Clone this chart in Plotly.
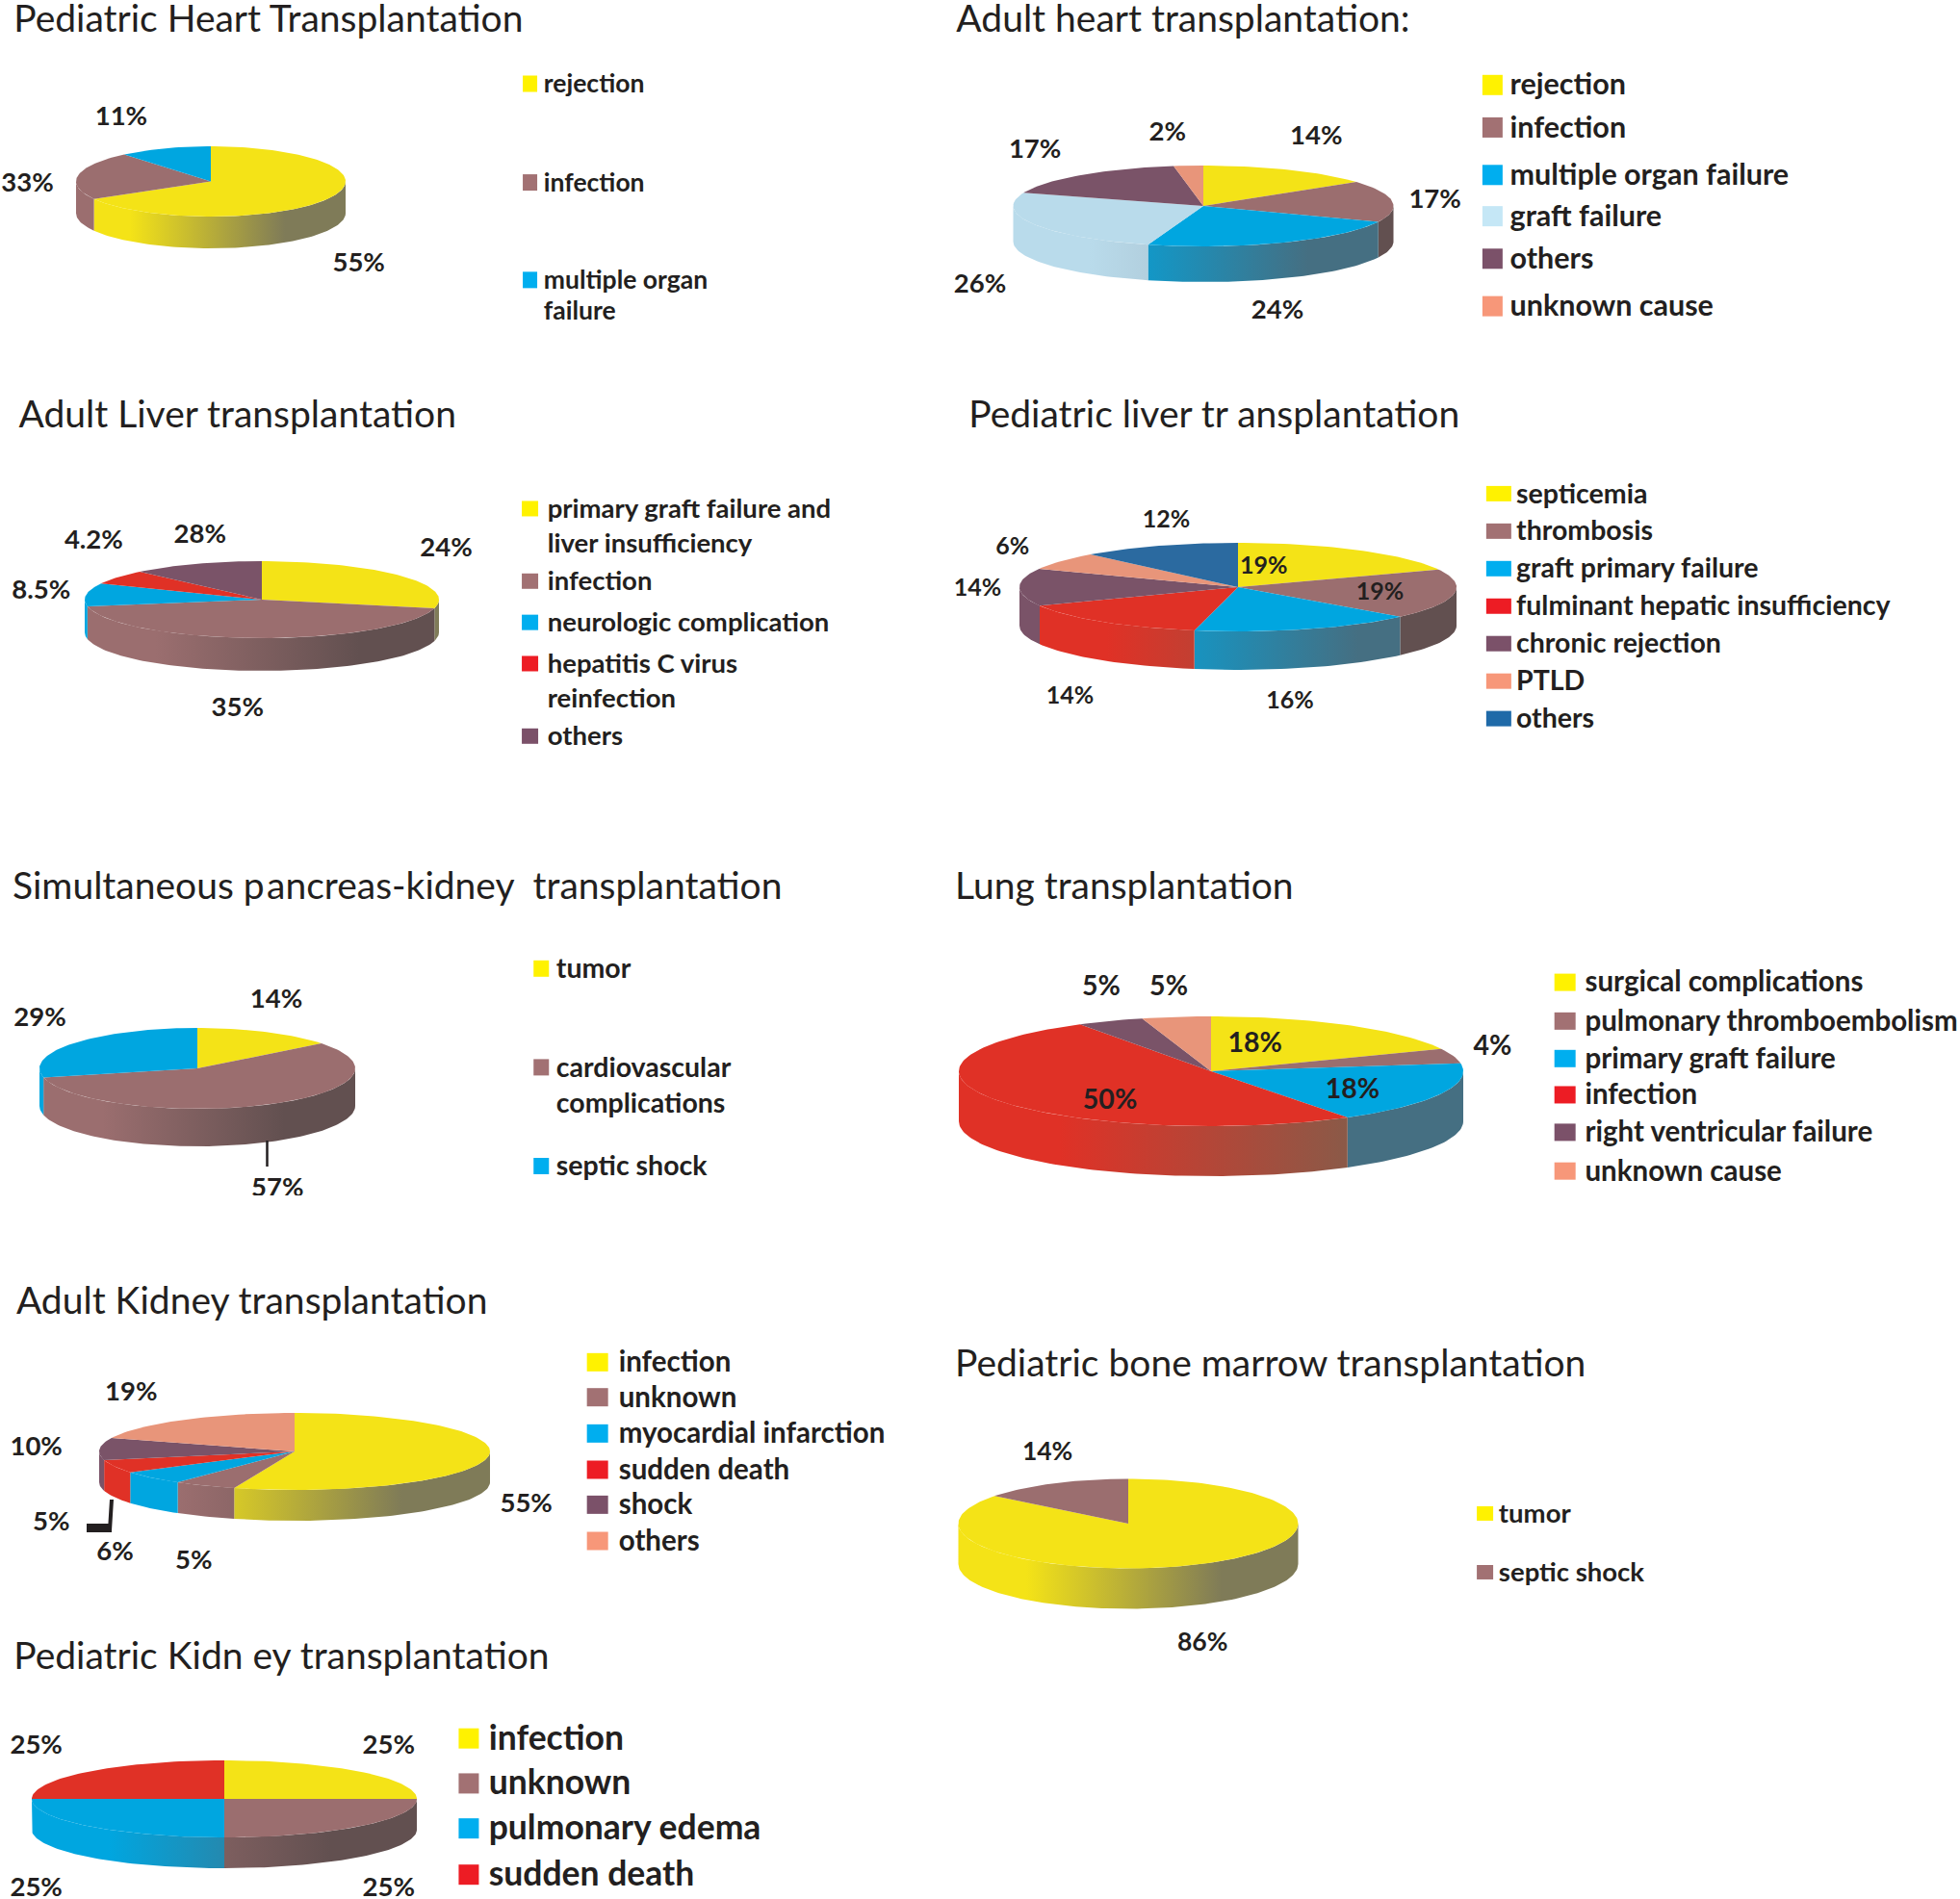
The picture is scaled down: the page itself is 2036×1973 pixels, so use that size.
import math
import plotly.graph_objects as go

W, H = 2036, 1973
K = W / 1568  # text anchors below are noted on a 1568-wide grid
TEXT_DY = 2.5  # px: box centre to glyph centre
TITLE_DY = 3.5

# ---- data ---------------------------------------------------------------
ped_heart_title = "Pediatric Heart Transplantation"
ped_heart_cats = ["rejection", "infection", "multiple organ\nfailure"]
ped_heart_vals = [66.7, 22.2, 11.1]
ped_heart_lbls = ["55%", "33%", "11%"]

adult_heart_title = "Adult heart transplantation:"
adult_heart_cats = ["rejection", "infection", "multiple organ failure", "graft failure", "others", "unknown cause"]
adult_heart_vals = [14.9, 16.5, 23.3, 25.6, 17.2, 2.5]
adult_heart_lbls = ["14%", "17%", "24%", "26%", "17%", "2%"]

adult_liver_title = "Adult Liver transplantation"
adult_liver_cats = ["primary graft failure and\nliver insufficiency", "infection", "neurologic complication",
                    "hepatitis C virus\nreinfection", "others"]
adult_liver_vals = [28.6, 43.6, 9.7, 6.0, 12.1]
adult_liver_lbls = ["24%", "35%", "8.5%", "4.2%", "28%"]

ped_liver_title = "Pediatric liver tr ansplantation"
ped_liver_cats = ["septicemia", "thrombosis", "graft primary failure", "fulminant hepatic insufficiency",
                  "chronic rejection", "PTLD", "others"]
ped_liver_vals = [18.5, 18.2, 16.5, 14.9, 13.7, 6.4, 11.8]
ped_liver_lbls = ["19%", "19%", "16%", "14%", "14%", "6%", "12%"]

spk_title = "Simultaneous p\u200aancreas-kidney \u00a0transplantation"
spk_cats = ["tumor", "cardiovascular\ncomplications", "septic shock"]
spk_vals = [14.4, 57, 28.6]
spk_lbls = ["14%", "57%", "29%"]

lung_title = "Lung transplantation"
lung_cats = ["surgical complications", "pulmonary thromboembolism", "primary graft failure", "infection",
             "right ventricular failure", "unknown cause"]
lung_vals = [18.3, 4.4, 18.2, 50.4, 4.3, 4.4]
lung_lbls = ["18%", "4%", "18%", "50%", "5%", "5%"]

adult_kidney_title = "Adult Kidney transplantation"
adult_kidney_cats = ["infection", "unknown", "myocardial infarction", "sudden death", "shock", "others"]
adult_kidney_vals = [55, 5.2, 5.7, 5.5, 9.3, 19.3]
adult_kidney_lbls = ["55%", "5%", "6%", "5%", "10%", "19%"]

ped_kidney_title = "Pediatric Kidn ey transplantation"
ped_kidney_cats = ["infection", "unknown", "pulmonary edema", "sudden death"]
ped_kidney_vals = [25, 25, 25, 25]
ped_kidney_lbls = ["25%", "25%", "25%", "25%"]

ped_bm_title = "Pediatric bone marrow transplantation"
ped_bm_cats = ["tumor", "septic shock"]
ped_bm_vals = [85.6, 14.4]
ped_bm_lbls = ["86%", "14%"]

# ---- styles: (top colour, side end colour, legend colour) ----------------
Y = ("#f4e317", "#7f7b58", "#fff200")
B = ("#9b6e6f", "#625050", "#a27173")
C = ("#00a6e0", "#456f82", "#00aeef")
L = ("#b9dbeb", "#9fb0bc", "#c5e7f6")
V = ("#7a5368", "#5f4a58", "#7b5169")
P = ("#e8957a", "#a88070", "#f79779")
R = ("#e03126", "#8a5a48", "#ed1c24")
D = ("#2b6aa0", "#3a5a78", "#1f6aa8")

TITLE_SIZE = 39

PIES = [
    dict(title=ped_heart_title, cats=ped_heart_cats, vals=ped_heart_vals, lbls=ped_heart_lbls,
         colors=[Y, B, C], geom=(219, 188.5, 140, 36.5, 33), title_xy=(11, 15.5),
         lbl_xy=[(287, 210), (22, 146), (97, 93)], lbl_size=27.5,
         sw_x=424, sw=(15, 17), txt_x=435, leg_y=[67, 146, 224], line_gap=25, leg_size=26.5),
    dict(title=adult_heart_title, cats=adult_heart_cats, vals=adult_heart_vals, lbls=adult_heart_lbls,
         colors=[Y, B, C, L, V, P], geom=(1250, 214, 197.5, 42, 37), title_xy=(765, 15.5),
         lbl_xy=[(1053, 108), (1148, 159), (1022, 248), (784, 227), (828, 119), (934, 105)], lbl_size=27.5,
         sw_x=1194, sw=(21, 21), txt_x=1208, leg_y=[68, 102, 140, 173, 207, 245], line_gap=0, leg_size=30.5),
    dict(title=adult_liver_title, cats=adult_liver_cats, vals=adult_liver_vals, lbls=adult_liver_lbls,
         colors=[Y, B, C, R, V], geom=(272, 623, 184, 40, 34), title_xy=(15, 332),
         lbl_xy=[(357, 438), (190, 566), (33, 472), (75, 432), (160, 427)], lbl_size=27.5,
         sw_x=424, sw=(17, 16), txt_x=438, leg_y=[407, 465, 498, 531, 589], line_gap=28, leg_size=27.5),
    dict(title=ped_liver_title, cats=ped_liver_cats, vals=ped_liver_vals, lbls=ped_liver_lbls,
         colors=[Y, B, C, R, V, P, D], geom=(1286, 610, 227, 46, 40), title_xy=(775, 332),
         lbl_xy=[(1011, 452), (1104, 473), (1032, 560), (856, 556), (782, 470), (810, 437), (933, 415)], lbl_size=25,
         sw_x=1199, sw=(26, 16), txt_x=1213, leg_y=[395, 425, 455, 485, 515, 545, 575], line_gap=0, leg_size=28.5),
    dict(title=spk_title, cats=spk_cats, vals=spk_vals, lbls=spk_lbls,
         colors=[Y, B, C], geom=(205, 1110, 164, 42, 39), title_xy=(10, 709),
         lbl_xy=[(221, 799), (222, 950), (32, 814)], lbl_size=27.5,
         sw_x=433, sw=(16, 17), txt_x=445, leg_y=[775, 854, 933], line_gap=29, leg_size=28.5),
    dict(title=lung_title, cats=lung_cats, vals=lung_vals, lbls=lung_lbls,
         colors=[Y, B, C, R, V, P], geom=(1258, 1113, 262, 57, 52), title_xy=(764, 709),
         lbl_xy=[(1004, 834), (1194, 837), (1082, 871), (888, 880), (881, 789), (935, 789)], lbl_size=28.5,
         sw_x=1252, sw=(22, 18), txt_x=1268, leg_y=[786, 817, 847, 876, 906, 937], line_gap=0, leg_size=29.5),
    dict(title=adult_kidney_title, cats=adult_kidney_cats, vals=adult_kidney_vals, lbls=adult_kidney_lbls,
         colors=[Y, B, C, R, V, P], geom=(306, 1508, 203, 40, 32), title_xy=(13, 1041),
         lbl_xy=[(421, 1203), (155, 1248), (92, 1241), (41, 1217), (29, 1157), (105, 1113)], lbl_size=27.5,
         sw_x=478, sw=(22, 19), txt_x=495, leg_y=[1090, 1118, 1147, 1176, 1204, 1233], line_gap=0, leg_size=29.5),
    dict(title=ped_kidney_title, cats=ped_kidney_cats, vals=ped_kidney_vals, lbls=ped_kidney_lbls,
         colors=[Y, B, C, R], geom=(233, 1869, 200, 40, 32), title_xy=(11, 1325),
         lbl_xy=[(311, 1396), (311, 1510), (29, 1510), (29, 1396)], lbl_size=27.5,
         sw_x=375, sw=(21, 21), txt_x=391, leg_y=[1391, 1427, 1463, 1500], line_gap=0, leg_size=35.5),
    dict(title=ped_bm_title, cats=ped_bm_cats, vals=ped_bm_vals, lbls=ped_bm_lbls,
         colors=[Y, B], geom=(1172, 1583, 176.5, 46.5, 42), title_xy=(764, 1091),
         lbl_xy=[(962, 1314), (838, 1161)], lbl_size=26.5,
         sw_x=1188, sw=(17, 15), txt_x=1199, leg_y=[1211, 1258], line_gap=0, leg_size=27.5),
]

INK = "#231f20"
fig = go.Figure()
shapes = []


def arc(cx, cy, rx, ry, a, b, dy=0):
    n = max(2, int(abs(b - a) / 1.5) + 1)
    ts = [math.radians(a + (b - a) * i / (n - 1)) for i in range(n)]
    return [cx + rx * math.sin(t) for t in ts], [cy + dy - ry * math.cos(t) for t in ts]


def poly(xs, ys, **kw):
    fig.add_trace(go.Scatter(x=xs, y=ys, mode="lines", fill="toself", line=dict(width=0),
                             hoverinfo="skip", showlegend=False, **kw))


def text(xs, ys, strs, size, weight=700, pos="middle center"):
    fig.add_trace(go.Scatter(x=xs, y=ys, text=strs, mode="text", textposition=pos, hoverinfo="skip",
                             showlegend=False, cliponaxis=False,
                             textfont=dict(family="Lato", size=size, color=INK, weight=weight)))


for p in PIES:
    cx, cy, rx, ry, depth = p["geom"]
    total = sum(p["vals"])
    angle = 0.0
    spans = []
    for v in p["vals"]:
        spans.append((angle, angle + 360.0 * v / total))
        angle = spans[-1][1]
    # sides: the front half of the drum
    for (a, b), col in zip(spans, p["colors"]):
        lo, hi = max(a, 90), min(b, 270)
        if hi <= lo:
            continue
        x1, y1 = arc(cx, cy, rx, ry, lo, hi)
        x2, y2 = arc(cx, cy, rx, ry, hi, lo, depth)
        poly(x1 + x2, y1 + y2, fillcolor=col[0],
             fillgradient=dict(type="horizontal", start=cx - 0.6 * rx, stop=cx + 0.55 * rx,
                               colorscale=[[0, col[0]], [1, col[1]]]))
    # top face
    for (a, b), col in zip(spans, p["colors"]):
        xa, ya = arc(cx, cy, rx, ry, a, b)
        poly([cx] + xa + [cx], [cy] + ya + [cy], fillcolor=col[0])
    # title
    text([p["title_xy"][0] * K], [p["title_xy"][1] * K + TITLE_DY], [p["title"]], TITLE_SIZE, 400, "middle right")
    # percentages
    text([q[0] * K for q in p["lbl_xy"]], [q[1] * K + TEXT_DY for q in p["lbl_xy"]], p["lbls"], p["lbl_size"])
    # legend
    lx, ly, ls = [], [], []
    for cat, y0, col in zip(p["cats"], p["leg_y"], p["colors"]):
        sx, sy = p["sw_x"] * K, y0 * K
        w, h = p["sw"]
        shapes.append(dict(type="rect", xref="x", yref="y", x0=sx - w / 2, x1=sx + w / 2,
                           y0=sy - h / 2, y1=sy + h / 2, fillcolor=col[2], line=dict(width=0), layer="below"))
        for i, line in enumerate(cat.split("\n")):
            lx.append(p["txt_x"] * K)
            ly.append((y0 + i * p["line_gap"]) * K + TEXT_DY)
            ls.append(line)
    text(lx, ly, ls, p["leg_size"], 700, "middle right")

# leader lines drawn in the source
LEADERS = [((277.5, 1185), (277.5, 1212), 2.5), ((116, 1558), (114, 1590), 4), ((90, 1587.5), (116, 1587.5), 9)]
for (x0, y0), (x1, y1), w in LEADERS:
    shapes.append(dict(type="line", xref="x", yref="y", x0=x0, y0=y0, x1=x1, y1=y1,
                       line=dict(color=INK, width=w), layer="above"))
# cropped edges of the source panels
for x0, x1, y0, y1 in [(540, 760, 333, 350), (240, 340, 1242, 1262)]:
    shapes.append(dict(type="rect", xref="x", yref="y", x0=x0, x1=x1, y0=y0, y1=y1,
                       fillcolor="white", line=dict(width=0), layer="above"))

fig.update_layout(
    width=W, height=H, margin=dict(l=0, r=0, t=0, b=0, pad=0),
    paper_bgcolor="white", plot_bgcolor="white", showlegend=False, shapes=shapes,
    xaxis=dict(range=[0, W], visible=False, fixedrange=True),
    yaxis=dict(range=[H, 0], visible=False, fixedrange=True),
)
fig.write_html("out.html", config={"displayModeBar": False},
               post_script="document.body.style.margin='0';document.body.style.overflow='hidden';")
